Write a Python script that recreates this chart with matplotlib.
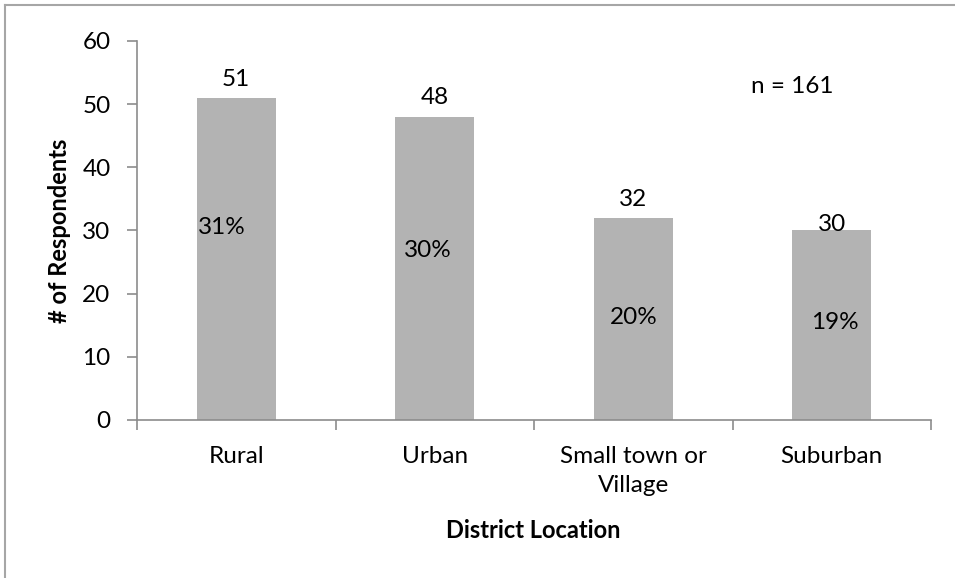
import matplotlib
matplotlib.use("Agg")
import matplotlib.pyplot as plt
from matplotlib.lines import Line2D

categories = ["Rural", "Urban", "Small town or\nVillage", "Suburban"]
counts = [51, 48, 32, 30]
percent_labels = ["31%", "30%", "20%", "19%"]
yticks = [0, 10, 20, 30, 40, 50, 60]

# label placement (layout, not data)
pct_label_y = [30.4, 26.9, 16.3, 15.4]
pct_label_dx = [-0.075, -0.035, 0.0, 0.015]
count_label_dy = [6, 6, 6, -3]

plt.rcParams['font.family'] = ['Lato', 'DejaVu Sans']
FS = 17.5

fig = plt.figure(figsize=(9.55, 5.78), dpi=100)
ax = fig.add_axes([137/955, (578-420)/578, (931-137)/955, (420-41)/578])

x = list(range(len(categories)))
ax.bar(x, counts, width=0.4, color="#b3b3b3", zorder=2)
ax.set_xlim(-0.5, len(categories) - 0.5)
ax.set_ylim(0, 60)
ax.set_yticks(yticks)
ax.set_yticklabels([str(t) for t in yticks], fontsize=FS)

ax.set_xticks(x)
ax.set_xticklabels(categories, fontsize=FS, linespacing=1.45, va="top")
ax.tick_params(axis='x', length=0, pad=19)
ax.set_xticks([i - 0.5 for i in range(len(categories) + 1)], minor=True)
ax.tick_params(axis='x', which='minor', length=7, width=1.2, color="#8c8c8c", direction='out')
ax.tick_params(axis='y', length=7, width=1.2, color="#8c8c8c", pad=12)

for s in ["top", "right"]:
    ax.spines[s].set_visible(False)
for s in ["left", "bottom"]:
    ax.spines[s].set_color("#8c8c8c")
    ax.spines[s].set_linewidth(1.2)

for i, (c, p) in enumerate(zip(counts, percent_labels)):
    ax.annotate(str(c), (i, c), xytext=(0, count_label_dy[i]), textcoords="offset points",
                ha="center", va="bottom", fontsize=FS)
    ax.text(i + pct_label_dx[i], pct_label_y[i], p, ha="center", va="center", fontsize=FS)

ax.text(3 - 0.2, 52.8, "n = 161", ha="center", va="center", fontsize=FS)

ax.set_ylabel("# of Respondents", fontsize=FS - 0.5, fontweight="bold", labelpad=8)
fig.text(533/955, 1 - 530/578, "District Location", ha="center", va="center",
         fontsize=FS - 0.5, fontweight="bold")

# outer chart frame (top and left edges visible)
fig.add_artist(Line2D([5/955, 1], [1 - 5/578, 1 - 5/578], color="#a6a6a6", lw=1.5, transform=fig.transFigure))
fig.add_artist(Line2D([5/955, 5/955], [0, 1 - 5/578], color="#a6a6a6", lw=1.5, transform=fig.transFigure))

fig.savefig("out.png", dpi=100, facecolor="white")
